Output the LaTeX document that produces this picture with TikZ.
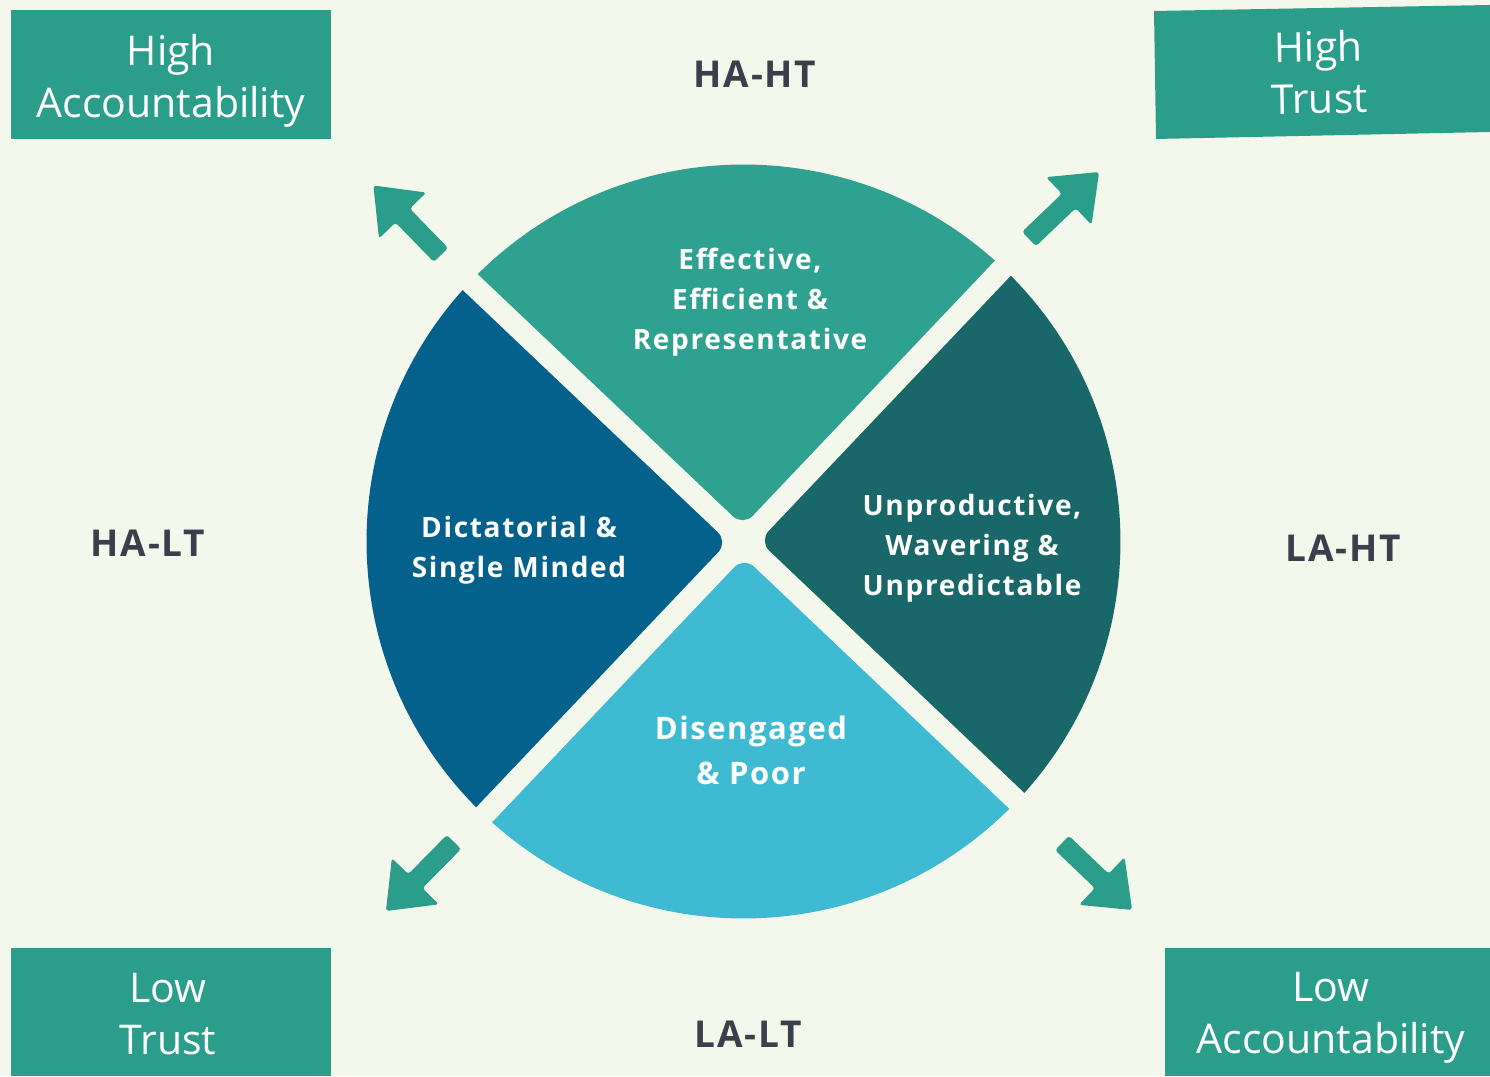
\documentclass[tikz,border=0pt]{standalone}
\usepackage{fontspec}
\setmainfont{Open Sans}
\newfontfamily\spaced{Open Sans}[LetterSpace=5]
\newfontfamily\spacedw{Open Sans}[LetterSpace=6]
\usetikzlibrary{calc}
\definecolor{bgc}{HTML}{F4F7EC}
\definecolor{tealc}{HTML}{2B9D8B}
\definecolor{wtop}{HTML}{2FA190}
\definecolor{wleft}{HTML}{03618B}
\definecolor{wright}{HTML}{1A676A}
\definecolor{wbottom}{HTML}{3EBBD2}
\definecolor{labelc}{HTML}{3A3F4B}
\newcommand\mywedge[2]{%
  \begin{scope}[rotate=#2]
    \fill[#1, rounded corners=14] ($(0,15.556)+(45:150)$) -- (0,15.556) -- ($(0,15.556)+(135:150)$)
      [sharp corners] -- (133.328:377) arc[start angle=133.328, end angle=46.672, radius=377] -- cycle;
  \end{scope}}
\tikzset{
  cornerbox/.style={fill=tealc, draw=none},
  boxtext/.style={text=white, align=center, font=\fontsize{41}{52}\selectfont},
  axislabel/.style={text=labelc, font=\spaced\bfseries\fontsize{37}{40}\selectfont},
  wedgetext/.style={text=white, align=center, font=\spacedw\bfseries\fontsize{28}{40}\selectfont},
  bigwedgetext/.style={text=white, align=center, font=\spaced\bfseries\fontsize{31}{45}\selectfont},
  blockarrow/.pic={\fill[tealc, rounded corners=3] (0,-10) -- (55,-10) -- (55,-33) -- (97,0) -- (55,33) -- (55,10) -- (0,10) -- cycle;}
}
\begin{document}
\begin{tikzpicture}[x=1pt,y=1pt]
\useasboundingbox (0,0) rectangle (1490,1076);
\fill[bgc] (0,0) rectangle (1490,1076);

% corner boxes
\fill[cornerbox] (11,937) rectangle (331,1066);
\fill[cornerbox] (1154,1065) -- (1490,1071) -- (1490,944) -- (1156,937) -- cycle;
\fill[cornerbox] (11,0) rectangle (331,128);
\fill[cornerbox] (1165,0) rectangle (1490,128);
\node[boxtext] (hacc) at (171,995) {High\\Accountability};
\node[boxtext, rotate=1] (htrust) at (1319,1004) {High\\Trust};
\node[boxtext] (ltrust) at (168,62) {Low\\Trust};
\node[boxtext] (lacc) at (1331,58) {Low\\Accountability};

% axis labels
\node[axislabel] (hahT) at (755,1002) {HA-HT};
\node[axislabel] (halt) at (148,533) {HA-LT};
\node[axislabel] (laht) at (1343,528) {LA-HT};
\node[axislabel] (lalt) at (748,42) {LA-LT};

% wedges
\begin{scope}[shift={(743.5,534.5)}, rotate=1.5]
  \mywedge{wtop}{0}
  \mywedge{wleft}{90}
  \mywedge{wbottom}{180}
  \mywedge{wright}{270}
\end{scope}

\node[wedgetext] (top) at (750,774) {Effective,\\Efficient \&\\Representative};
\node[wedgetext] (left) at (519,526) {Dictatorial \&\\Single Minded};
\node[wedgetext] (right) at (972,528) {Unproductive,\\Wavering \&\\Unpredictable};
\node[bigwedgetext] (bottom) at (751,326) {Disengaged\\\& Poor};

% arrows
\pic[rotate=134.2] (arrtl) at (441,821) {blockarrow};
\pic[rotate=43.7] (arrtr) at (1029,837) {blockarrow};
\pic[rotate=225.4] (arrbl) at (454,234) {blockarrow};
\pic[rotate=-43.7] (arrbr) at (1062,233) {blockarrow};
\end{tikzpicture}
\end{document}
